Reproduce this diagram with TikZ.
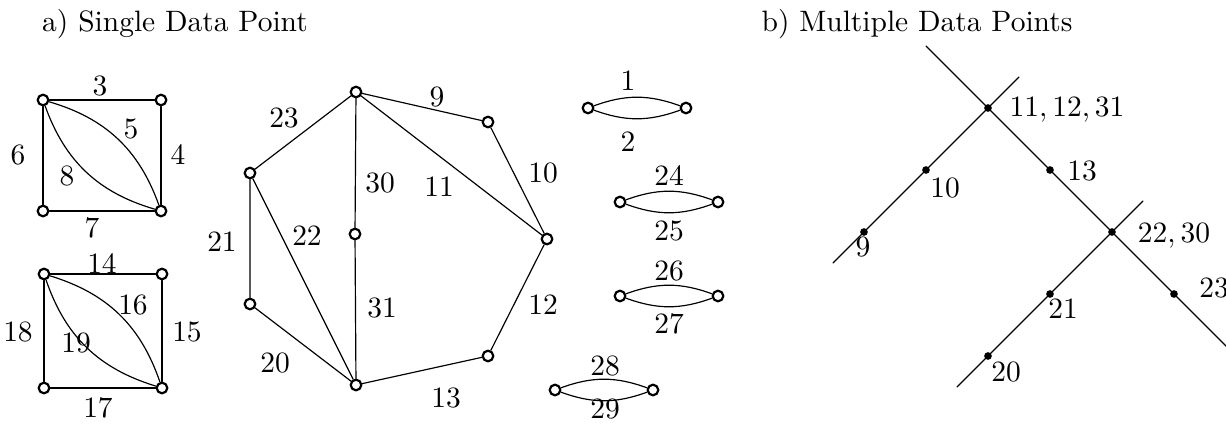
\documentclass[tikz,border=0pt]{standalone}
\begin{document}
\begin{tikzpicture}[x=0.339pt,y=-0.339pt,line join=round,line cap=round]
	\tikzset{vtx/.style={circle,draw,line width=0.75pt,minimum size=3.6pt,inner sep=0pt},
		dot/.style={circle,fill,minimum size=2.6pt,inner sep=0pt}}
	\useasboundingbox (0,0) rectangle (1226,428);
	% titles
	\node[anchor=base] (ta) at (175,32) {a) Single Data Point};
	\node[anchor=base] (tb) at (917,32) {b) Multiple Data Points};
	% a) vertices
	\foreach \n/\x/\y in {A1/43/100,B1/161/100,C1/43/211,D1/161/211,
		A2/44/274,B2/162/274,C2/44/388,D2/162/388,
		t/356/92,ra/488/122,rb/547/239,rc/488/356,bt/356/385,md/355/234,la/250/173,lb/250/304,
		pa/588/108,qa/686/108,pb/620/202,qb/718/202,pc/620/296,qc/718/296,pd/555/390,qd/653/390}
	\node[vtx] (\n) at (\x,\y) {};
	% a) edges
	\foreach \i in {1,2}{
		\draw (A\i)--(B\i)--(D\i)--(C\i)--(A\i);
		\draw (A\i) to[bend left=27] (D\i) (A\i) to[bend right=27] (D\i);}
	\draw (t)--(ra)--(rb)--(rc)--(bt)--(lb)--(la)--(t)--(md)--(bt);
	\draw (t)--(rb) (la)--(bt);
	\foreach \i in {a,b,c,d}
	\draw (p\i) to[bend left=20] (q\i) (p\i) to[bend right=20] (q\i);
	% a) labels
	\foreach \t/\x/\y in {3/100/86,6/18/155,4/178/155,5/131/129,8/67/176,7/92/228,
		14/102/264,18/18/332,15/187/332,16/133/305,19/76/343,17/98/408,
		23/284/118,9/437/97,10/543/173,30/380/183,11/439/187,21/222/242,22/307/236,
		31/382/308,12/543/305,20/275/363,13/446/398,
		1/628/81,2/628/142,24/669/176,25/669/231,26/669/271,27/669/324,28/605/366,29/605/409}
	\node (l\t) at (\x,\y) {$\t$};
	% b) tree
	\begin{scope}[shift={(988,108)},scale=62]
		\coordinate (J1) at (0,0);
		\coordinate (J2) at (2,2);
		\coordinate (e0) at (-1,-1);
		\coordinate (e1) at (0.5,-0.5);
		\coordinate (e2) at (-2.5,2.5);
		\coordinate (e3) at (2.5,1.5);
		\coordinate (e4) at (4,4);
		\coordinate (e5) at (-0.5,4.5);
		\draw (e0)--(J1)--(J2)--(e4);
		\draw (e1)--(e2) (e3)--(e5);
		\foreach \n/\x/\y in {k1/0/0,k2/2/2,k13/1/1,k10/-1/1,k9/-2/2,k21/1/3,k20/0/4,k23/3/3}
		\node[dot] (\n) at (\x,\y) {};
	\end{scope}
	\node[anchor=base] (m1) at (1067,117) {$11,12,31$};
	\node[anchor=base] (m2) at (1174,243) {$22,30$};
	\foreach \t/\x/\y in {13/1082/171,10/945/188,9/863/247,23/1214/288,21/1063/309,20/1006/372}
	\node (m\t) at (\x,\y) {$\t$};
\end{tikzpicture}
\end{document}
